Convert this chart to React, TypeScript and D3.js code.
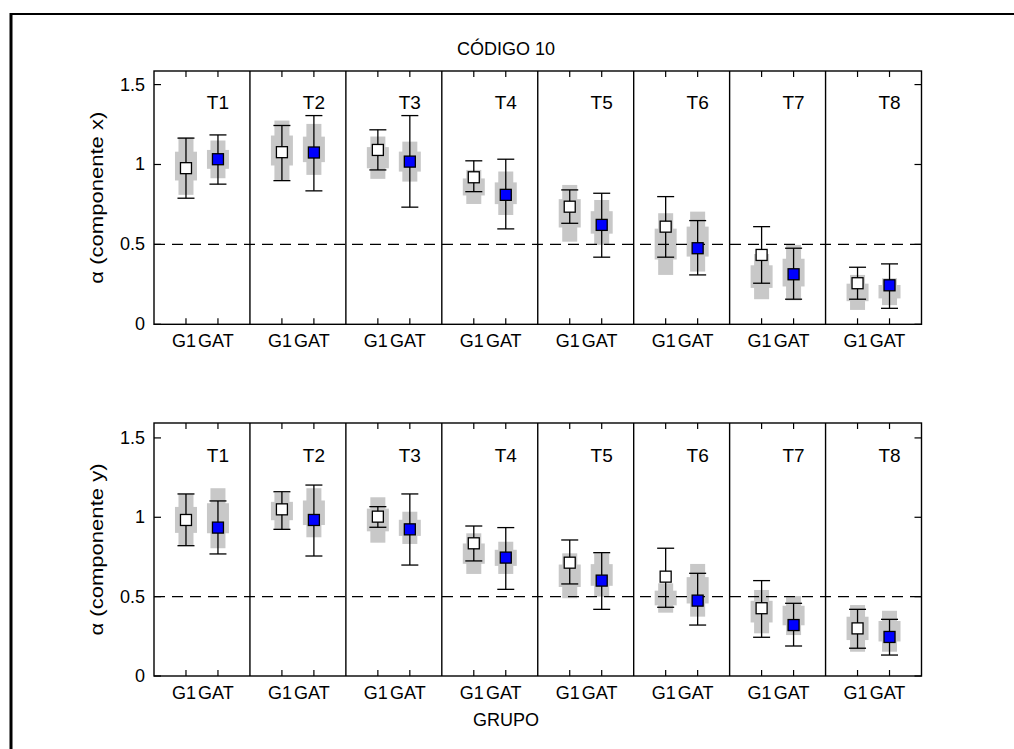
import React from "react";
import * as d3 from "d3";

const tests = ["T1", "T2", "T3", "T4", "T5", "T6", "T7", "T8"];
const groups = ["G1", "GAT"];
const yTicks = [0, 0.5, 1, 1.5];

// Panel 1: componente x
const xG1Mean = [0.977, 1.077, 1.091, 0.92, 0.736, 0.611, 0.434, 0.257];
const xG1Hi = [1.165, 1.244, 1.217, 1.023, 0.841, 0.799, 0.611, 0.357];
const xG1Lo = [0.789, 0.899, 0.966, 0.83, 0.632, 0.42, 0.257, 0.157];
const xGATMean = [1.033, 1.075, 1.018, 0.81, 0.622, 0.476, 0.313, 0.244];
const xGATHi = [1.185, 1.306, 1.306, 1.033, 0.82, 0.649, 0.476, 0.378];
const xGATLo = [0.877, 0.835, 0.733, 0.597, 0.42, 0.309, 0.157, 0.1];
const xG1GrayHi = [1.17, 1.275, 1.175, 0.966, 0.872, 0.695, 0.44, 0.309];
const xG1GrayLo = [0.81, 0.9, 0.91, 0.753, 0.517, 0.309, 0.157, 0.09];
const xGATGrayHi = [1.15, 1.254, 1.143, 0.956, 0.778, 0.705, 0.497, 0.288];
const xGATGrayLo = [0.914, 0.935, 0.893, 0.684, 0.497, 0.33, 0.15, 0.12];

// Panel 2: componente y
const yG1Mean = [0.983, 1.05, 1.004, 0.836, 0.714, 0.626, 0.427, 0.3];
const yG1Hi = [1.147, 1.161, 1.067, 0.945, 0.857, 0.805, 0.601, 0.42];
const yG1Lo = [0.821, 0.924, 0.937, 0.725, 0.58, 0.433, 0.244, 0.175];
const yGATMean = [0.935, 0.983, 0.924, 0.746, 0.601, 0.475, 0.321, 0.246];
const yGATHi = [1.103, 1.203, 1.147, 0.935, 0.777, 0.647, 0.458, 0.357];
const yGATLo = [0.769, 0.756, 0.699, 0.546, 0.42, 0.321, 0.189, 0.132];
const yG1GrayHi = [1.147, 1.155, 1.126, 0.899, 0.773, 0.584, 0.542, 0.447];
const yG1GrayLo = [0.82, 0.924, 0.84, 0.643, 0.49, 0.399, 0.269, 0.153];
const yGATGrayHi = [1.183, 1.183, 1.035, 0.846, 0.773, 0.706, 0.504, 0.411];
const yGATGrayLo = [0.805, 0.874, 0.832, 0.643, 0.5, 0.374, 0.258, 0.153];

const FONT = "'Liberation Sans', Arial, sans-serif";

type Series = {
  mean: number[];
  hi: number[];
  lo: number[];
  grayHi: number[];
  grayLo: number[];
};

function Panel({
  top,
  bottom,
  yMax,
  label,
  g1,
  gat,
}: {
  top: number;
  bottom: number;
  yMax: number;
  label: string;
  g1: Series;
  gat: Series;
}) {
  const left = 154;
  const right = 921.5;
  const band = d3.scaleBand<string>().domain(tests).range([left, right]).padding(0);
  const y = d3.scaleLinear().domain([0, yMax]).range([bottom, top]);
  const inner = d3.scaleLinear().domain([0, 3]).range([0, band.bandwidth()]);
  const gx = (t: string, gi: number) => (band(t) as number) + inner(gi + 1);
  const series = [g1, gat];
  const fills = ["#ffffff", "#0000ff"];

  return (
    <g>
      {/* gray data clouds */}
      {tests.map((t, i) =>
        series.map((s, gi) => {
          const cx = gx(t, gi);
          const hi = s.grayHi[i];
          const lo = s.grayLo[i];
          const r = hi - lo;
          return (
            <g key={`g${t}${gi}`} fill="#c8c8c8">
              <rect x={cx - 7.5} y={y(hi)} width={15} height={y(lo) - y(hi)} />
              <rect
                x={cx - 11}
                y={y(hi - 0.25 * r)}
                width={22}
                height={y(lo + 0.25 * r) - y(hi - 0.25 * r)}
              />
            </g>
          );
        })
      )}
      {/* dashed 0.5 line */}
      <line
        x1={left}
        x2={right}
        y1={y(0.5)}
        y2={y(0.5)}
        stroke="#000"
        strokeWidth={1.2}
        strokeDasharray="11,7"
      />
      {/* frame */}
      <rect x={left} y={top} width={right - left} height={bottom - top} fill="none" stroke="#000" strokeWidth={1.4} />
      {tests.slice(1).map((t) => (
        <line key={`d${t}`} x1={band(t)} x2={band(t)} y1={top} y2={bottom} stroke="#000" strokeWidth={1.4} />
      ))}
      {/* y ticks */}
      {yTicks.map((v) => (
        <g key={`yt${v}`}>
          <line x1={left} x2={left + 7} y1={y(v)} y2={y(v)} stroke="#000" strokeWidth={1.2} />
          <line x1={right - 7} x2={right} y1={y(v)} y2={y(v)} stroke="#000" strokeWidth={1.2} />
          <text
            x={145}
            y={y(v)}
            textAnchor="end"
            dominantBaseline="central"
            fontFamily={FONT}
            fontSize={18}
            fill="#000"
          >
            {d3.format("~g")(v)}
          </text>
        </g>
      ))}
      {/* x ticks + labels */}
      {tests.map((t) =>
        groups.map((g, gi) => {
          const cx = gx(t, gi);
          return (
            <g key={`xt${t}${g}`}>
              <line x1={cx} x2={cx} y1={top} y2={top + 6} stroke="#000" strokeWidth={1.2} />
              <line x1={cx} x2={cx} y1={bottom - 6} y2={bottom} stroke="#000" strokeWidth={1.2} />
              <text
                x={cx - 2}
                y={bottom + 23}
                textAnchor="middle"
                fontFamily={FONT}
                fontSize={18}
                fill="#000"
              >
                {g}
              </text>
            </g>
          );
        })
      )}
      {/* T labels */}
      {tests.map((t) => (
        <text
          key={`tl${t}`}
          x={(band(t) as number) + inner(2)}
          y={y(1.35)}
          textAnchor="middle"
          fontFamily={FONT}
          fontSize={19}
          fill="#000"
        >
          {t}
        </text>
      ))}
      {/* error bars and means */}
      {tests.map((t, i) =>
        series.map((s, gi) => {
          const cx = gx(t, gi);
          return (
            <g key={`e${t}${gi}`} stroke="#000" strokeWidth={1.3}>
              <line x1={cx} x2={cx} y1={y(s.hi[i])} y2={y(s.lo[i])} />
              <line x1={cx - 8.5} x2={cx + 8.5} y1={y(s.hi[i])} y2={y(s.hi[i])} />
              <line x1={cx - 8.5} x2={cx + 8.5} y1={y(s.lo[i])} y2={y(s.lo[i])} />
              <rect x={cx - 5.5} y={y(s.mean[i]) - 5.5} width={11} height={11} fill={fills[gi]} />
            </g>
          );
        })
      )}
      {/* y label */}
      <text
        transform={`translate(103,${(top + bottom) / 2}) rotate(-90)`}
        textAnchor="middle"
        fontFamily={FONT}
        fontSize={19}
        textLength={172}
        lengthAdjust="spacingAndGlyphs"
        fill="#000"
      >
        {label}
      </text>
    </g>
  );
}

export default function App() {
  return (
    <svg
      width={1014}
      height={749}
      style={{ position: "absolute", left: 0, top: 0, background: "#fff" }}
    >
      <rect x={0} y={0} width={1014} height={749} fill="#fff" />
      <line x1={10} x2={1014} y1={14} y2={14} stroke="#000" strokeWidth={2} />
      <line x1={11} x2={11} y1={13} y2={749} stroke="#000" strokeWidth={3} />
      <text x={506} y={55} textAnchor="middle" fontFamily={FONT} fontSize={18} fill="#000">
        CÓDIGO 10
      </text>
      <Panel
        top={71}
        bottom={324.3}
        yMax={1.585}
        label="α (componente x)"
        g1={{ mean: xG1Mean, hi: xG1Hi, lo: xG1Lo, grayHi: xG1GrayHi, grayLo: xG1GrayLo }}
        gat={{ mean: xGATMean, hi: xGATHi, lo: xGATLo, grayHi: xGATGrayHi, grayLo: xGATGrayLo }}
      />
      <Panel
        top={423}
        bottom={676}
        yMax={1.594}
        label="α (componente y)"
        g1={{ mean: yG1Mean, hi: yG1Hi, lo: yG1Lo, grayHi: yG1GrayHi, grayLo: yG1GrayLo }}
        gat={{ mean: yGATMean, hi: yGATHi, lo: yGATLo, grayHi: yGATGrayHi, grayLo: yGATGrayLo }}
      />
      <text x={506} y={726} textAnchor="middle" fontFamily={FONT} fontSize={18} fill="#000">
        GRUPO
      </text>
    </svg>
  );
}
